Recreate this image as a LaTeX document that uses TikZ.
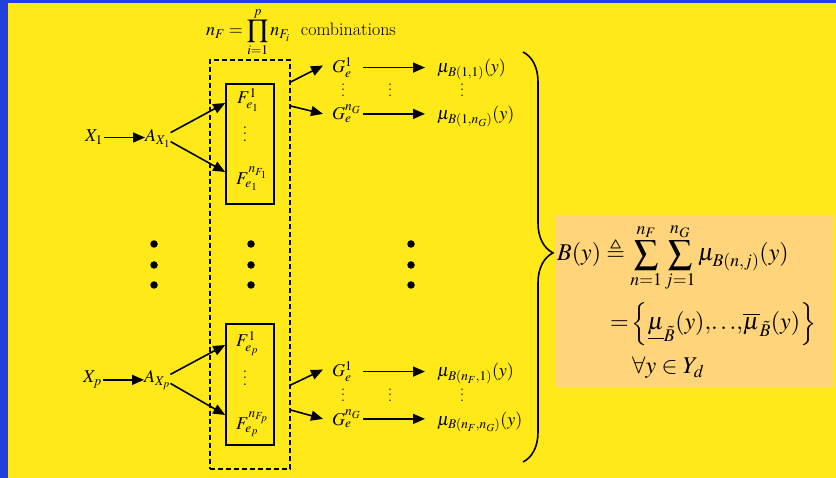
\documentclass[tikz,border=0pt]{standalone}
\usepackage{amsmath,amssymb}
\usepackage{mathptmx}
\usetikzlibrary{arrows.meta,decorations.pathreplacing,calc}
\definecolor{bluebg}{RGB}{34,64,222}
\definecolor{yellowbg}{RGB}{255,233,24}
\definecolor{orangebg}{RGB}{255,212,122}
\newcommand\myvdots[1]{\vbox{\baselineskip#1\lineskiplimit0pt\hbox{.}\hbox{.}\hbox{.}}}
\begin{document}
\begin{tikzpicture}[x=1pt,y=-1pt,
  every node/.style={font=\fontsize{18}{20}\selectfont, inner sep=0pt},
  lbl/.style={anchor=base west},
  arr/.style={line width=1.6pt, -{Triangle[length=12pt,width=10pt]}},
  fbox/.style={draw, line width=1.6pt, minimum width=48pt, minimum height=#1, fill=none},
  dbox/.style={draw, line width=1.3pt, dash pattern=on 5pt off 3pt, minimum width=80pt, minimum height=409pt},
  vd/.style={font=\fontsize{19}{20}\selectfont},
  vds/.style={font=\fontsize{18}{20}\selectfont},
  bigdot/.style={fill=black, circle, minimum size=7.5pt}]
\useasboundingbox (0,0) rectangle (836,478);
\fill[bluebg] (0,0) rectangle (836,478);
\fill[yellowbg] (8,3) rectangle (836,478);
\fill[orangebg] (555,215) rectangle (834,387);

% title
\node[lbl] (title) at (206,36) {$n_F=\displaystyle\prod_{i=1}^{p} n_{F_i}$\ \ combinations};

% boxes
\node[dbox] (dash) at (250,264.5) {};
\node[fbox=120pt] (b1) at (250,144) {};
\node[fbox=121pt] (b2) at (250,384.5) {};

% left inputs
\node[lbl] (x1) at (85,142) {$X_1$};
\node[lbl] (a1) at (145,142) {$A_{X_1}$};
\node[lbl] (xp) at (83,383) {$X_p$};
\node[lbl] (ap) at (144,383) {$A_{X_p}$};
\draw[arr, shorten <=1pt] (x1.east) -- (a1.west |- x1.east);
\draw[arr, shorten <=1pt] (xp.east) -- (ap.west |- xp.east);

% F labels
\node[lbl] (f11) at (237,104) {$F_{e_1}^{1}$};
\node[vd] (f1v) at (245,134) {\myvdots{6.5pt}};
\node[lbl] (f12) at (236,185) {$F_{e_1}^{n_{F_1}}$};
\node[lbl] (fp1) at (236,347) {$F_{e_p}^{1}$};
\node[vd] (fpv) at (245,378) {\myvdots{6.5pt}};
\node[lbl] (fp2) at (236,430) {$F_{e_p}^{n_{F_p}}$};

\draw[arr] ([yshift=6pt]a1.east) -- ([yshift=41pt]b1.west);
\draw[arr] ([yshift=-3pt]a1.east) -- ([yshift=-28pt]b1.west);
\draw[arr] ([yshift=6pt]ap.east) -- ([yshift=39.5pt]b2.west);
\draw[arr] ([yshift=-3pt]ap.east) -- ([yshift=-30.5pt]b2.west);

% G and mu
\node[lbl] (g11) at (332,73) {$G_e^{1}$};
\node[lbl] (g12) at (332,120) {$G_e^{n_G}$};
\node[lbl] (g21) at (332,377) {$G_e^{1}$};
\node[lbl] (g22) at (332,425) {$G_e^{n_G}$};
\node[lbl] (m11) at (437,73) {$\mu_{B(1,1)}(y)$};
\node[lbl] (m12) at (437,120) {$\mu_{B(1,n_G)}(y)$};
\node[lbl] (m21) at (437,377) {$\mu_{B(n_F,1)}(y)$};
\node[lbl] (m22) at (437,425) {$\mu_{B(n_F,n_G)}(y)$};

\draw[arr] ([yshift=182.5pt]dash.east) -- ([xshift=-9pt,yshift=2pt]g11.west);
\draw[arr] ([yshift=158.5pt]dash.east) -- ([xshift=-9pt,yshift=0pt]g12.west);
\draw[arr] ([yshift=-120.5pt]dash.east) -- ([xshift=-9pt,yshift=2pt]g21.west);
\draw[arr] ([yshift=-145.5pt]dash.east) -- ([xshift=-9pt,yshift=0pt]g22.west);

\draw[arr, shorten <=31pt, shorten >=12pt] (g11.west) -- (m11.west |- g11.west);
\draw[arr, shorten <=31pt, shorten >=12pt] (g12.west) -- (m12.west |- g12.west);
\draw[arr, shorten <=31pt, shorten >=12pt] (g21.west) -- (m21.west |- g21.west);
\draw[arr, shorten <=31pt, shorten >=12pt] (g22.west) -- (m22.west |- g22.west);

\node[vds] (v1a) at (343,90) {\myvdots{5.5pt}};
\node[vds] (v1b) at (390,90) {\myvdots{5.5pt}};
\node[vds] (v1c) at (462,90) {\myvdots{5.5pt}};
\node[vds] (v2a) at (343,395) {\myvdots{5.5pt}};
\node[vds] (v2b) at (390,395) {\myvdots{5.5pt}};
\node[vds] (v2c) at (462,395) {\myvdots{5.5pt}};

% big dots
\foreach \xx/\nm in {154/a,251/b,411/c}{
  \node[bigdot] (d\nm1) at (\xx,244) {};
  \node[bigdot] (d\nm2) at (\xx,265) {};
  \node[bigdot] (d\nm3) at (\xx,285) {};
}

% brace
\coordinate (brt) at (523,52);
\coordinate (brb) at (523,462);
\draw[line width=1.6pt, decorate, decoration={brace, amplitude=30pt, aspect=0.49}] (brt) -- (brb);

% formula
\node[lbl, font=\fontsize{24}{26}\selectfont] (eq1) at (557,261)
  {$B(y)\triangleq\displaystyle\sum_{n=1}^{n_F}\sum_{j=1}^{n_G}\mu_{B(n,j)}(y)$};
\node[lbl, font=\fontsize{24}{26}\selectfont] (eq2) at (610,330)
  {$=\!\left\{\underline{\mu}_{\tilde{B}}(y){,}{\ldots}{,}\overline{\mu}_{\tilde{B}}(y)\right\}$};
\node[lbl, font=\fontsize{24}{26}\selectfont] (eq3) at (632,374)
  {$\forall y\in Y_d$};
\end{tikzpicture}
\end{document}
